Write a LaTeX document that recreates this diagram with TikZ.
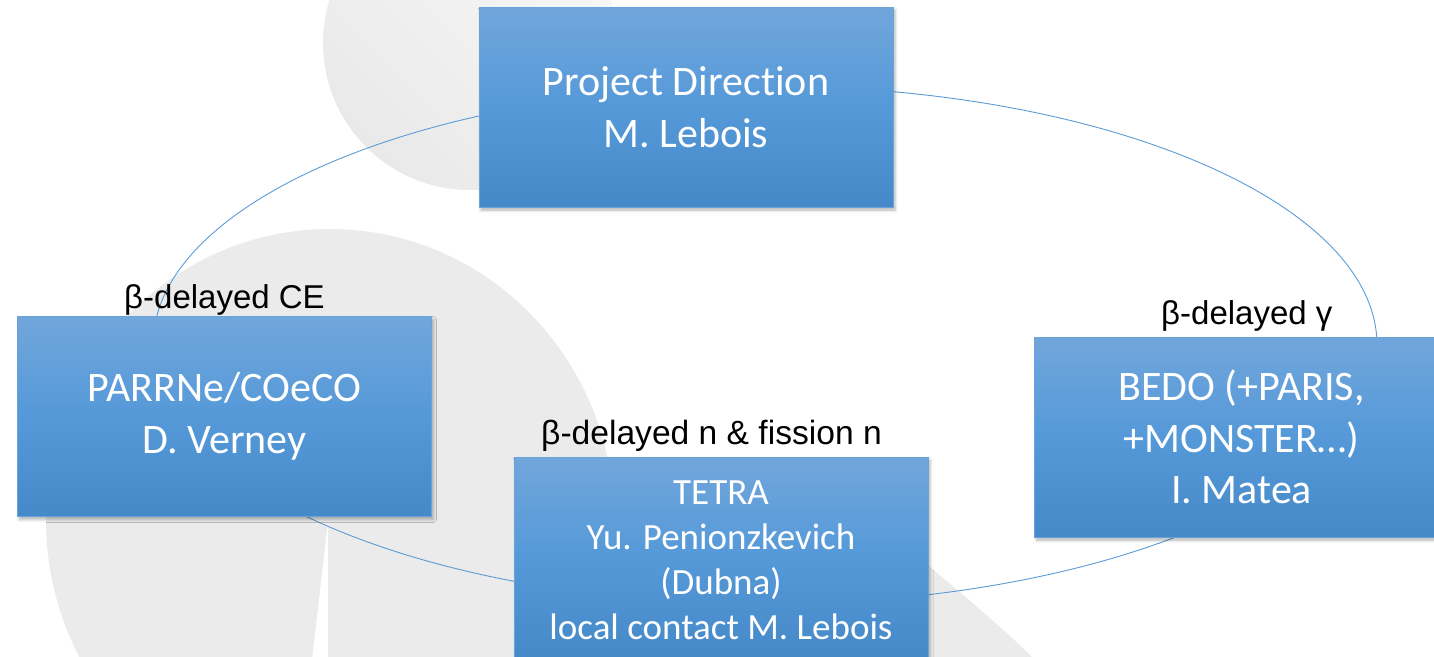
\documentclass[tikz,border=0pt]{standalone}
\usepackage{fontspec}
\setmainfont{Carlito}[Ligatures={NoCommon,NoContextual}]
\newfontfamily\labelfont{Liberation Sans}
\usetikzlibrary{shadows.blur}
\definecolor{boxtop}{HTML}{71A6DB}
\definecolor{boxmid}{HTML}{5599D9}
\definecolor{boxbot}{HTML}{4689C8}
\definecolor{boxline}{HTML}{6AA2DA}
\definecolor{cycleblue}{HTML}{5B9BD5}
\definecolor{headlight}{HTML}{F7F7F7}
\definecolor{headdark}{HTML}{E9E9E9}
\definecolor{bodygrey}{HTML}{EBEBEB}
\begin{document}
\begin{tikzpicture}[x=1pt,y=-1pt,
  stage/.style={rectangle, minimum width=414pt, minimum height=200pt, inner sep=0pt,
    draw=boxline, line width=0.6pt, top color=boxtop, bottom color=boxbot, middle color=boxmid,
    text=white, align=center, font=\fontsize{42}{51.5}\selectfont,
    blur shadow={shadow xshift=2pt, shadow yshift=-3pt, shadow blur radius=3pt, shadow opacity=30}},
  lab/.style={anchor=base west, inner sep=0pt, text=black, font=\labelfont\fontsize{33}{38}\selectfont},
  cycleline/.style={draw=cycleblue, line width=0.9pt}]
\useasboundingbox (0,0) rectangle (1434,656);
\clip (0,0) rectangle (1434,656);
% background silhouette
\shade[top color=headlight, bottom color=headdark, shading angle=-45] (470,43) circle[radius=147pt];
\fill[bodygrey] (330,520) ellipse[x radius=284pt, y radius=291pt];
\fill[bodygrey] (600,470) .. controls (760,480) and (880,520) .. (928,565) .. controls (965,597) and (1000,625) .. (1035,660) -- (600,660) -- cycle;
\fill[white] (312,660) -- (328,522) -- (328,660) -- cycle;
% cycle
\coordinate (hub) at (765,345);
\draw[cycleline] (hub) ellipse [x radius=612pt, y radius=259pt];
% boxes
\node[stage] (dir) at (686,107) {Project Direction\\M. Lebois};
\node[stage] (parr) at (224.5,416.5) {PARRNe/COeCO\\D. Verney};
\node[stage] (bedo) at (1241.5,437) {BEDO (+PARIS,\\+MONSTER…)\\I. Matea};
\node[stage, font=\fontsize{37}{45.2}\selectfont] (tetra) at (721,557) {\rule{0pt}{30pt}TETRA\\Yu. Penionzkevich\\(Dubna)\\local contact M. Lebois};
% labels
\node[lab] (labce) at (124,308) {β-delayed CE};
\node[lab, font=\labelfont\fontsize{33.6}{38}\selectfont] (labn) at (541,444) {β-delayed n \& fission n};
\node[lab] (labg) at (1161,324) {β-delayed γ};
\end{tikzpicture}
\end{document}
